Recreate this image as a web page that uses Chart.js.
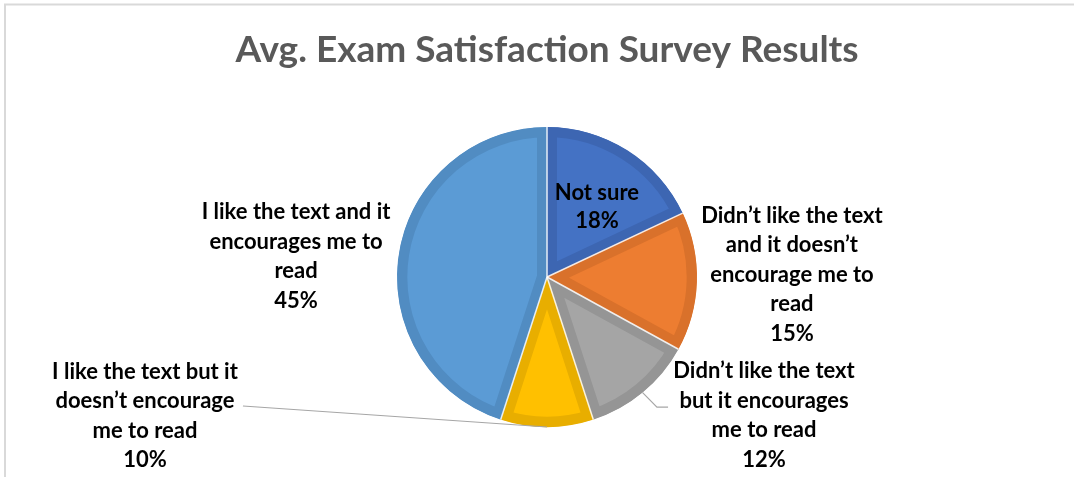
<!DOCTYPE html>
<html>
<head>
<meta charset="utf-8">
<title>Avg. Exam Satisfaction Survey Results</title>
<script src="https://cdn.jsdelivr.net/npm/chart.js@4/dist/chart.umd.min.js"></script>
<style>
  html, body { margin: 0; padding: 0; background: #ffffff; }
  #wrap { position: relative; width: 1074px; height: 477px; }
</style>
</head>
<body>
<div id="wrap"><canvas id="chart" width="1074" height="477"></canvas></div>
<script>
// Survey answers, clockwise from 12 o'clock
const categories = [
  "Not sure",
  "Didn’t like the text and it doesn’t encourage me to read",
  "Didn’t like the text but it encourages me to read",
  "I like the text but it doesn’t encourage me to read",
  "I like the text and it encourages me to read"
];
// Wrapped label lines shown beside each slice
const labelLines = [
  ["Not sure"],
  ["Didn’t like the text", "and it doesn’t", "encourage me to", "read"],
  ["Didn’t like the text", "but it encourages", "me to read"],
  ["I like the text but it", "doesn’t encourage", "me to read"],
  ["I like the text and it", "encourages me to", "read"]
];
// Share of responses (%)
const shares = [18, 15, 12, 10, 45];

const fillColors = ["#4472C4", "#ED7D31", "#A5A5A5", "#FFC000", "#5B9BD5"];
const edgeColors = ["#3D66B2", "#D9712B", "#959595", "#E8AE00", "#518CC2"];

// Label block centres, in radius units from the pie centre
const labelPlacement = [
  { x: 0.333, y: -0.467 },
  { x: 1.633, y: -0.017 },
  { x: 1.447, y: 0.923, leader: [[0.733, 0.867], [0.807, 0.867]] },
  { x: -2.68, y: 0.927, leader: [[-2.027, 0.86]] },
  { x: -1.673, y: -0.137 }
];

const frame = {
  id: 'frame',
  beforeDraw(chart) {
    const ctx = chart.ctx;
    ctx.save();
    ctx.strokeStyle = '#D9D9D9';
    ctx.lineWidth = 2;
    ctx.beginPath();
    ctx.moveTo(5, 477);
    ctx.lineTo(5, 4.5);
    ctx.lineTo(1074, 4.5);
    ctx.stroke();
    ctx.restore();
  }
};

// Thin white seams between the slices
const seams = {
  id: 'seams',
  afterDatasetsDraw(chart) {
    const ctx = chart.ctx;
    const arcs = chart.getDatasetMeta(0).data;
    ctx.save();
    ctx.strokeStyle = 'rgba(255,255,255,0.85)';
    ctx.lineWidth = 1.5;
    arcs.forEach(a => {
      const { x, y, startAngle, outerRadius } = a.getProps(['x', 'y', 'startAngle', 'outerRadius'], true);
      ctx.beginPath();
      ctx.moveTo(x, y);
      ctx.lineTo(x + Math.cos(startAngle) * outerRadius, y + Math.sin(startAngle) * outerRadius);
      ctx.stroke();
    });
    ctx.restore();
  }
};

const sliceLabels = {
  id: 'sliceLabels',
  afterDatasetsDraw(chart) {
    const ctx = chart.ctx;
    const arcs = chart.getDatasetMeta(0).data;
    const lineH = 29.5;
    ctx.save();
    ctx.font = 'bold 22px Lato, "Open Sans", sans-serif';
    ctx.fillStyle = '#000000';
    ctx.textAlign = 'center';
    ctx.textBaseline = 'middle';
    arcs.forEach((a, i) => {
      const { x, y, startAngle, endAngle, outerRadius: r } =
        a.getProps(['x', 'y', 'startAngle', 'endAngle', 'outerRadius'], true);
      const mid = (startAngle + endAngle) / 2;
      const p = labelPlacement[i];
      const cx = x + p.x * r;
      const cy = y + p.y * r;
      if (p.leader) {
        ctx.save();
        ctx.strokeStyle = '#A6A6A6';
        ctx.lineWidth = 1.2;
        ctx.beginPath();
        ctx.moveTo(x + Math.cos(mid) * r, y + Math.sin(mid) * r);
        p.leader.forEach(pt => ctx.lineTo(x + pt[0] * r, y + pt[1] * r));
        ctx.stroke();
        ctx.restore();
      }
      const lines = labelLines[i].concat([shares[i] + '%']);
      const gap = i === 0 ? 28 : lineH;
      const top = cy - (lines.length - 1) * gap / 2;
      lines.forEach((t, k) => ctx.fillText(t, cx, top + k * gap));
    });
    ctx.restore();
  }
};

new Chart(document.getElementById('chart'), {
  type: 'pie',
  data: {
    labels: categories,
    datasets: [{
      data: shares,
      backgroundColor: fillColors,
      borderColor: edgeColors,
      borderWidth: 10,
      borderAlign: 'inner',
      hoverBorderWidth: 10,
      hoverOffset: 0
    }]
  },
  options: {
    responsive: false,
    animation: false,
    events: [],
    layout: { padding: { top: 20, left: 20, right: 0, bottom: 50 } },
    plugins: {
      legend: { display: false },
      tooltip: { enabled: false },
      title: {
        display: true,
        text: 'Avg. Exam Satisfaction Survey Results',
        color: '#595959',
        font: { family: 'Lato, "Open Sans", sans-serif', size: 37, weight: 'bold', lineHeight: 1.2 },
        padding: { top: 8, bottom: 54.6 }
      }
    }
  },
  plugins: [frame, seams, sliceLabels]
});
</script>
</body>
</html>
